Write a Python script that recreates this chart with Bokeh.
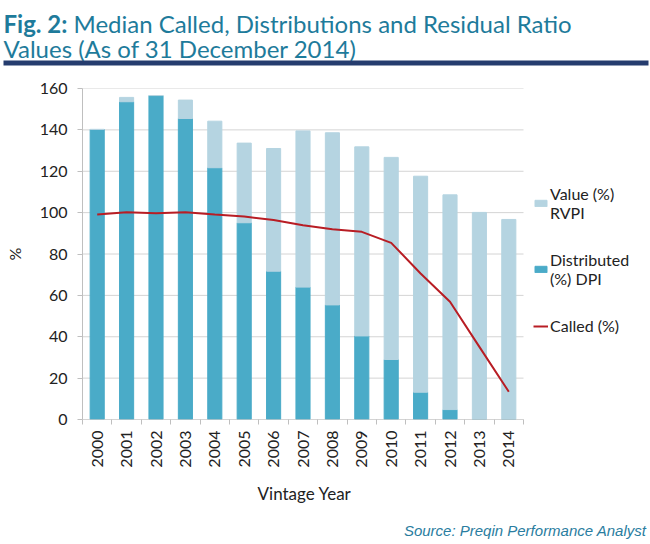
import math
from bokeh.plotting import figure
from bokeh.layouts import column
from bokeh.models import (ColumnDataSource, FixedTicker, Legend, LegendItem,
                          Label, BoxAnnotation)
from bokeh.embed import file_html
from bokeh.resources import INLINE

# ---- data ----
years = [2000, 2001, 2002, 2003, 2004, 2005, 2006, 2007, 2008, 2009,
         2010, 2011, 2012, 2013, 2014]
dpi = [140.2, 153.6, 156.6, 145.5, 121.7, 95.1, 71.7, 64.0, 55.4, 40.4,
       29.0, 13.2, 4.8, 0.0, 0.0]
rvpi = [0.0, 2.1, 0.0, 8.9, 22.5, 38.5, 59.3, 75.5, 83.2, 91.4,
        97.7, 104.4, 103.8, 100.1, 96.7]
called = [99.1, 100.2, 99.7, 100.2, 99.1, 98.1, 96.4, 93.9, 92.0, 90.7,
          85.4, 70.6, 56.9, 35.1, 13.4]
y_ticks = [0, 20, 40, 60, 80, 100, 120, 140, 160]

series_labels = ["Value (%)\nRVPI", "Distributed\n(%) DPI", "Called (%)"]
title_bold = "Fig. 2:"
title_rest = "Median Called, Distributions and Residual Ratio"
title_line2 = "Values (As of 31 December 2014)"
x_title = "Vintage Year"
y_title = "%"
source_text = "Source: Preqin Performance Analyst"

DPI_C = "#4AABC8"
RVPI_C = "#B5D4E1"
CALLED_C = "#B81D24"
TITLE_C = "#1E7B9B"
TEXT_C = "#222222"
GRID_C = "#D4D4D4"
AXIS_C = "#BFBFBF"
FONT = "Lato"
W = 650

# layout geometry (pixels)
HEAD_H, MAIN_H, FOOT_H = 72, 400, 72
LEFT = 82            # y axis panel width
CHART_W = 441        # width of the bar area
FRAME_W = W - LEFT   # frame reaches the right edge (legend inside it)


def blank(h):
    f = figure(width=W, height=h, x_range=(0, W), y_range=(h, 0),
               x_axis_type=None, y_axis_type=None, output_backend="svg",
               toolbar_location=None, min_border=0, frame_align=False)
    f.outline_line_color = None
    f.grid.visible = False
    return f


# ---- header ----
top = blank(HEAD_H)
top.add_layout(Label(x=3, y=23, text=title_bold, text_font=FONT,
                     text_font_size="24px", text_font_style="bold",
                     text_color=TITLE_C, text_baseline="alphabetic"))
top.add_layout(Label(x=73, y=23, text=title_rest, text_font=FONT,
                     text_font_size="24px", text_color=TITLE_C,
                     text_baseline="alphabetic"))
top.add_layout(Label(x=3, y=48, text=title_line2, text_font=FONT,
                     text_font_size="24px", text_color=TITLE_C,
                     text_baseline="alphabetic"))
top.add_layout(BoxAnnotation(left=3, right=648, top=60, bottom=65,
                             fill_color="#253C6E", fill_alpha=1,
                             line_color=None))

# ---- main chart ----
src = ColumnDataSource(dict(year=years, dpi=dpi, rvpi=rvpi, called=called))
grid_src = ColumnDataSource(dict(y=y_ticks))
x_start = years[0] - 0.5
x_stop = years[-1] + 0.5
x_end = x_start + len(years) * FRAME_W / CHART_W

p = figure(width=W, height=MAIN_H, x_range=(x_start, x_end),
           y_range=(y_ticks[0], y_ticks[-1]), output_backend="svg",
           toolbar_location=None, min_border_left=LEFT, min_border_top=16,
           min_border_bottom=53, min_border_right=0, frame_align=False)
p.outline_line_color = None
p.xgrid.grid_line_color = None
p.ygrid.grid_line_color = None

p.segment(x0=x_start, x1=x_stop, y0="y", y1="y", source=grid_src,
          line_color=GRID_C, line_width=1)
bars = p.vbar_stack(["dpi", "rvpi"], x="year", width=0.48,
                    color=[DPI_C, RVPI_C], source=src)
p.segment(x0=x_start, x1=x_stop, y0=y_ticks[0], y1=y_ticks[0],
          line_color=AXIS_C, line_width=1)
ln = p.line("year", "called", source=src, line_color=CALLED_C, line_width=2)

xa = p.xaxis[0]
xa.ticker = FixedTicker(ticks=years,
                        minor_ticks=[y - 0.5 for y in years] + [x_stop])
xa.major_label_overrides = {y: str(y) for y in years}
xa.major_tick_line_color = None
xa.major_tick_out = 5
xa.minor_tick_out = 5
xa.minor_tick_in = 0
xa.minor_tick_line_color = AXIS_C
xa.axis_line_color = None
xa.major_label_orientation = math.pi / 2
xa.major_label_standoff = 6
xa.major_label_text_font = FONT
xa.major_label_text_font_size = "16px"
xa.major_label_text_color = TEXT_C

ya = p.yaxis[0]
ya.ticker = FixedTicker(ticks=y_ticks)
ya.major_tick_out = 5
ya.major_tick_in = 0
ya.minor_tick_line_color = None
ya.major_tick_line_color = AXIS_C
ya.axis_line_color = AXIS_C
ya.major_label_standoff = 10
ya.major_label_text_font = FONT
ya.major_label_text_font_size = "16px"
ya.major_label_text_color = TEXT_C
ya.axis_label = y_title
ya.axis_label_text_font = FONT
ya.axis_label_text_font_size = "16px"
ya.axis_label_text_font_style = "normal"
ya.axis_label_text_color = TEXT_C
ya.axis_label_standoff = 13

legend = Legend(items=[
    LegendItem(label=series_labels[0], renderers=[bars[1]]),
    LegendItem(label=series_labels[1], renderers=[bars[0]]),
    LegendItem(label=series_labels[2], renderers=[ln]),
], location=(451, 84), orientation="vertical", border_line_color=None,
    background_fill_alpha=0, padding=0, margin=0, spacing=28,
    glyph_width=15, glyph_height=8, label_standoff=2,
    label_text_font=FONT, label_text_font_size="16px",
    label_text_color=TEXT_C)
p.add_layout(legend)

# ---- footer ----
bot = blank(FOOT_H)
bot.add_layout(Label(x=304, y=21, text=x_title, text_font=FONT,
                     text_font_size="17px", text_color=TEXT_C,
                     text_align="center", text_baseline="middle"))
bot.add_layout(Label(x=646, y=58, text=source_text, text_font="Liberation Sans",
                     text_font_size="15px", text_font_style="italic",
                     text_color="#2A7DA0", text_align="right",
                     text_baseline="middle"))

layout = column(top, p, bot, spacing=0)
open("out.html", "w").write(file_html(layout, INLINE))
